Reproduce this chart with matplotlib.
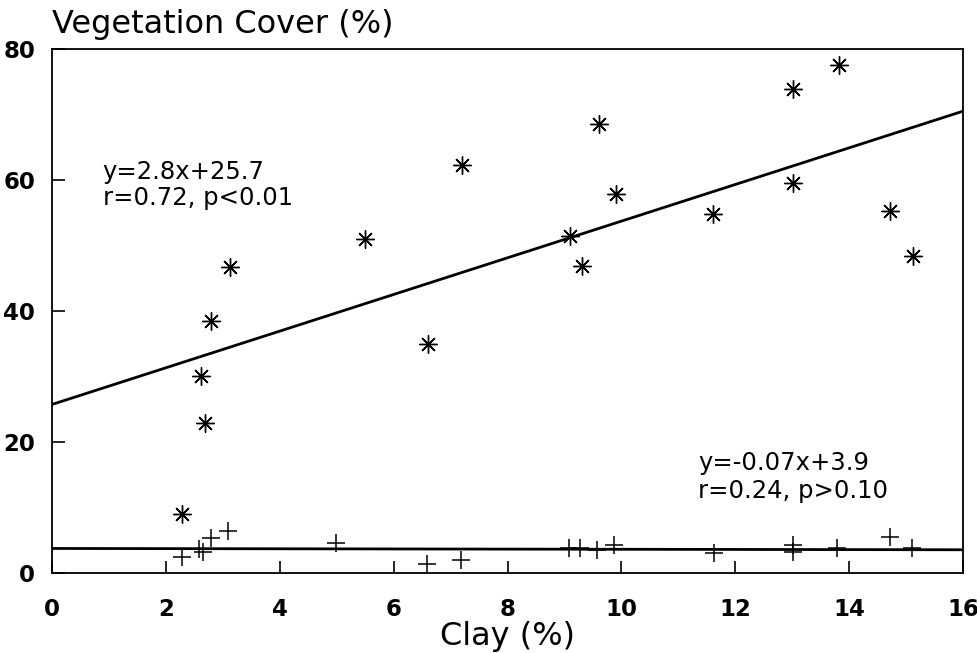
import numpy as np
import matplotlib.pyplot as plt

# vegetation cover (asterisks)
veg_clay = [2.29, 2.69, 2.61, 2.8, 3.12, 5.49, 6.6, 7.2, 9.6, 9.9, 9.1, 9.31,
            11.61, 13.02, 13.01, 13.82, 14.72, 15.12]
veg_cover = [8.9, 22.9, 30.0, 38.5, 46.7, 51.0, 34.9, 62.3, 68.5, 57.9, 51.5, 46.9,
             54.8, 73.9, 59.6, 77.5, 55.3, 48.4]

# second group (plus markers)
plus_clay = [2.29, 2.59, 2.66, 2.8, 3.09, 4.99, 6.59, 7.18, 9.08, 9.27, 9.58, 9.87,
             11.63, 13.02, 13.02, 13.79, 14.72, 15.1]
plus_cover = [2.4, 3.6, 3.1, 5.3, 6.4, 4.6, 1.3, 1.9, 3.8, 3.8, 3.5, 4.2,
              3.0, 4.3, 3.1, 3.7, 5.4, 3.7]

# fitted lines as drawn (ends at clay 0 and 16)
line_x = [0, 16]
line_upper = [25.7, 70.5]
line_lower = [3.7, 3.5]

x_ticks = [0, 2, 4, 6, 8, 10, 12, 14, 16]
y_ticks = [0, 20, 40, 60, 80]

plt.rcParams['font.family'] = 'DejaVu Sans'

fig = plt.figure(figsize=(9.78, 6.53), dpi=100)
ax = fig.add_axes([0.0532, 0.123, 0.9315, 0.802])

ax.plot(line_x, line_upper, color='black', lw=2)
ax.plot(line_x, line_lower, color='black', lw=2)

ax.plot(veg_clay, veg_cover, linestyle='none', marker=(8, 2, 0), markersize=13,
        markeredgecolor='black', markeredgewidth=1.0)
ax.plot(plus_clay, plus_cover, linestyle='none', marker='+', markersize=13,
        markeredgecolor='black', markeredgewidth=1.1)

ax.set_xlim(0, 16)
ax.set_ylim(0, 80)
ax.set_xticks(x_ticks)
ax.set_yticks(y_ticks)
ax.tick_params(direction='in', length=9, width=1.2, labelsize=16.5)
ax.tick_params(axis='x', pad=18)
ax.tick_params(axis='y', pad=12)
for lab in ax.get_xticklabels() + ax.get_yticklabels():
    lab.set_fontweight('bold')
for s in ax.spines.values():
    s.set_linewidth(1.3)

ax.text(0.89, 61.2, 'y=2.8x+25.7', fontsize=17.5, va='center')
ax.text(0.89, 57.2, 'r=0.72, p<0.01', fontsize=17.5, va='center')
ax.text(11.35, 16.8, 'y=-0.07x+3.9', fontsize=17.5, va='center')
ax.text(11.35, 12.5, 'r=0.24, p>0.10', fontsize=17.5, va='center')

ax.set_xlabel('Clay (%)', fontsize=23, labelpad=0)
fig.text(0.053, 0.962, 'Vegetation Cover (%)', fontsize=23, va='center', ha='left')

fig.savefig('out.png', dpi=100)
